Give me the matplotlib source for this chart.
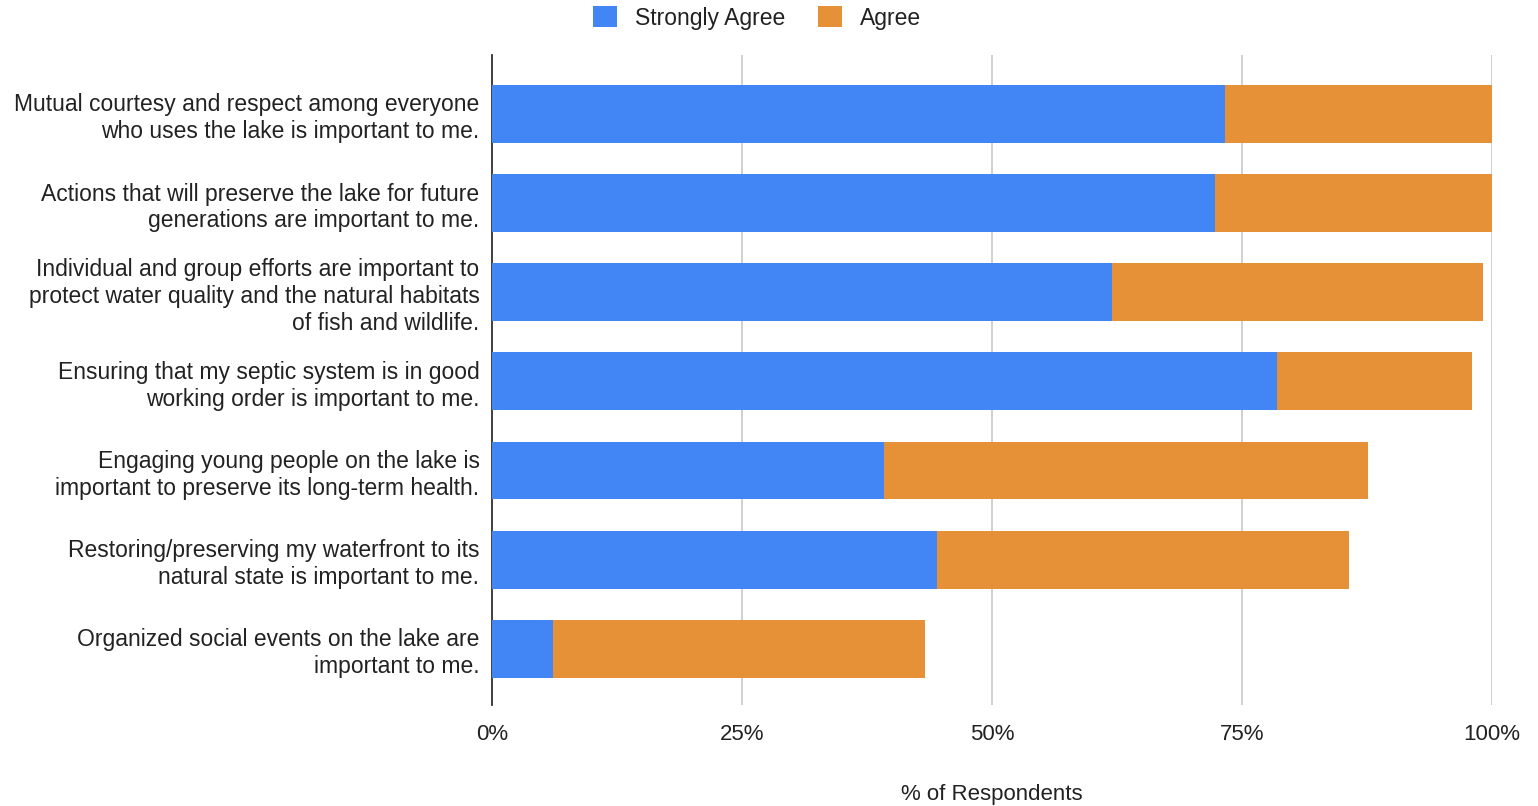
import matplotlib.pyplot as plt
from matplotlib.ticker import FuncFormatter

plt.rcParams['font.family'] = ['Liberation Sans', 'DejaVu Sans']

statements = [
    "Mutual courtesy and respect among everyone\nwho uses the lake is important to me.",
    "Actions that will preserve the lake for future\ngenerations are important to me.",
    "Individual and group efforts are important to\nprotect water quality and the natural habitats\nof fish and wildlife.",
    "Ensuring that my septic system is in good\nworking order is important to me.",
    "Engaging young people on the lake is\nimportant to preserve its long-term health.",
    "Restoring/preserving my waterfront to its\nnatural state is important to me.",
    "Organized social events on the lake are\nimportant to me.",
]
strongly_agree = [73.3, 72.3, 62.0, 78.5, 39.2, 44.5, 6.1]
agree = [26.7, 27.7, 37.1, 19.5, 48.4, 41.2, 37.2]

blue = '#4285F4'
orange = '#E69138'

fig = plt.figure(figsize=(15.38, 8.06), dpi=100)
ax = fig.add_axes([492 / 1538, 1 - 705 / 806, 1000 / 1538, 650 / 806])

ypos = list(range(len(statements)))
ax.barh(ypos, strongly_agree, height=0.65, color=blue, label='Strongly Agree', zorder=3)
ax.barh(ypos, agree, left=strongly_agree, height=0.65, color=orange, label='Agree', zorder=3)

ax.set_ylim(6.63, -0.66)
ax.set_xlim(0, 100)
ax.set_xticks([0, 25, 50, 75, 100])
ax.xaxis.set_major_formatter(FuncFormatter(lambda v, p: f'{v:.0f}%'))
ax.set_yticks(ypos)
ax.set_yticklabels(statements, fontsize=16.5, color='#222222', linespacing=1.22)
ax.tick_params(axis='x', labelsize=16, colors='#222222', length=0, pad=14)
ax.tick_params(axis='y', length=0, pad=9)

ax.grid(axis='x', color='#cccccc', linewidth=1.3, zorder=0)
for s in ['top', 'right', 'bottom']:
    ax.spines[s].set_visible(False)
ax.spines['left'].set_color('#333333')
ax.spines['left'].set_linewidth(1.3)

ax.set_xlabel('% of Respondents', fontsize=16, color='#222222', labelpad=28)

fig.legend(loc='upper center', bbox_to_anchor=(757 / 1538, 1.018), ncol=2, frameon=False,
           fontsize=16.5, handlelength=1.05, handleheight=1.05, columnspacing=1.4,
           handletextpad=0.8, labelcolor='#222222')

fig.savefig('out.png', dpi=100)
